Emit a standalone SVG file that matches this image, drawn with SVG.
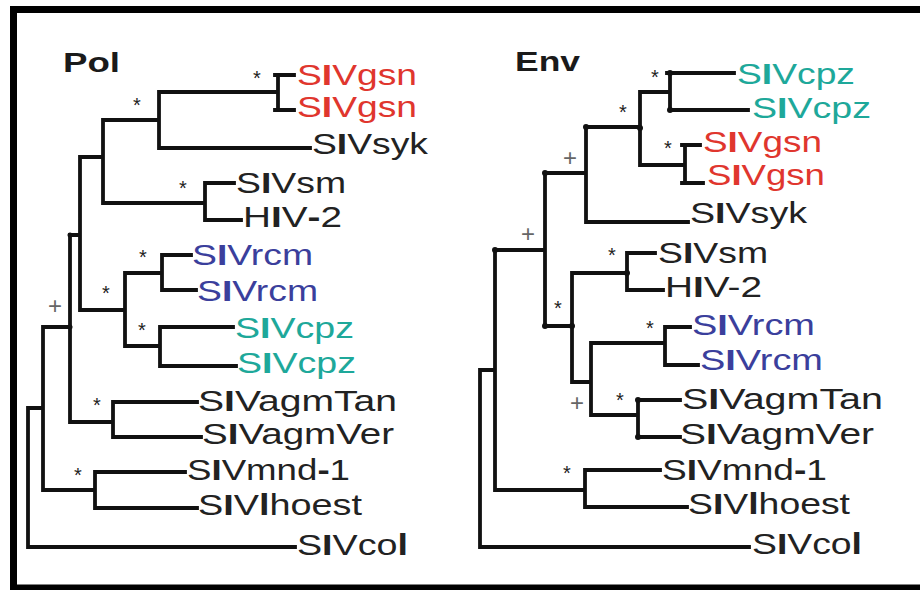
<svg xmlns="http://www.w3.org/2000/svg" width="920" height="590" viewBox="0 0 920 590">
<style>
.lbl{font-family:"Liberation Sans",Arial,sans-serif;font-size:30px;fill:#222}
.red{fill:#e0362e}
.blue{fill:#3b3f9c}
.teal{fill:#1ea89a}
.b{font-weight:bold}
.ttl{font-family:"Liberation Sans",Arial,sans-serif;font-size:27px;font-weight:bold;fill:#1a1a1a}
.st{font-family:"Liberation Sans",Arial,sans-serif;font-size:20px;fill:#222;text-anchor:middle}
.pl{font-family:"Liberation Sans",Arial,sans-serif;font-size:24px;fill:#666;text-anchor:middle}
.edge{fill:none;stroke:#111;stroke-width:3.8;stroke-linecap:square;stroke-linejoin:miter}
.dot{fill:#111}
</style>
<rect x="13.5" y="9.5" width="915" height="578.5" fill="#fff" stroke="#000" stroke-width="7"/>

<g id="titles">
<text class="ttl" x="63" y="72" textLength="57" lengthAdjust="spacingAndGlyphs">Pol</text>
<text class="ttl" x="515" y="71" textLength="65" lengthAdjust="spacingAndGlyphs">Env</text>
</g>

<g id="connectors">
<path class="edge" d="M275,75 H294 M278,75 V110 M275,110 H294 M159,92 H278 M159,92 V148 H310 M103,120 H159 M103,120 V203 H205 M205,183 V220 M205,183 H234 M205,220 H241 M80,157 H103 M80,157 V310 H125 M125,273 V346 M125,273 H162 M125,346 H160 M162,255 V290 M162,255 H191 M162,290 H196 M160,327 V366 M160,327 H233 M160,366 H236 M70,235 H80 M70,235 V422 H113 M113,402 V437 M113,402 H197 M113,437 H201 M43,327 H70 M43,327 V490 H95 M95,472 V508 M95,472 H185 M95,508 H197 M28,408 H43 M28,408 V547 H295"/>
<path class="edge" d="M667,73 H734 M670,73 V110 H748 M640,92 H670 M640,92 V165 H685 M682,145 H700 M685,145 V183 M682,183 H703 M586,127 H640 M586,127 V222 H688 M545,173 H586 M545,173 V326 H572 M572,273 V382 M572,273 H627 M627,253 V290 M627,253 H655 M627,290 H663 M572,382 H591 M591,343 V415 M591,343 H665 M665,327 V365 M665,327 H690 M665,365 H698 M591,415 H638 M638,400 V437 M638,400 H680 M638,437 H680 M495,250 H545 M495,250 V490 H585 M585,470 V507 M585,470 H660 M585,507 H687 M480,370 H495 M480,370 V547 H749"/>
<g class="dot">
<circle cx="670" cy="73" r="3"/><circle cx="670" cy="110" r="3"/><circle cx="640" cy="128" r="3"/><circle cx="586" cy="127" r="3"/><circle cx="545" cy="173" r="3"/><circle cx="495" cy="250" r="3"/><circle cx="545" cy="326" r="3"/><circle cx="572" cy="326" r="3"/><circle cx="627" cy="273" r="3"/><circle cx="638" cy="400" r="3"/><circle cx="638" cy="437" r="3"/><circle cx="70" cy="235" r="2.5"/><circle cx="70" cy="327" r="2.5"/>
</g>
</g>

<g id="support">
<text class="st" x="257" y="85">*</text>
<text class="st" x="137" y="112">*</text>
<text class="st" x="183" y="195">*</text>
<text class="st" x="143" y="264">*</text>
<text class="st" x="106" y="300">*</text>
<text class="st" x="142" y="337">*</text>
<text class="st" x="97" y="412">*</text>
<text class="st" x="78" y="482">*</text>
<text class="pl" x="55" y="314">+</text>
<text class="st" x="655" y="84">*</text>
<text class="st" x="623" y="119">*</text>
<text class="st" x="668" y="155">*</text>
<text class="st" x="612" y="262">*</text>
<text class="st" x="558" y="315">*</text>
<text class="st" x="650" y="335">*</text>
<text class="st" x="620" y="407">*</text>
<text class="st" x="567" y="480">*</text>
<text class="pl" x="570" y="166">+</text>
<text class="pl" x="528" y="242">+</text>
<text class="pl" x="577" y="411">+</text>
</g>

<g id="pol-SIVgsn-1"><text class="lbl red" x="297" y="85" textLength="120" lengthAdjust="spacingAndGlyphs">S<tspan class="b">I</tspan>Vgsn</text></g>
<g id="pol-SIVgsn-2"><text class="lbl red" x="297" y="117" textLength="120" lengthAdjust="spacingAndGlyphs">S<tspan class="b">I</tspan>Vgsn</text></g>
<g id="pol-SIVsyk"><text class="lbl" x="312" y="154" textLength="116" lengthAdjust="spacingAndGlyphs">S<tspan class="b">I</tspan>Vsyk</text></g>
<g id="pol-SIVsm"><text class="lbl" x="236" y="193" textLength="110" lengthAdjust="spacingAndGlyphs">S<tspan class="b">I</tspan>Vsm</text></g>
<g id="pol-HIV-2"><text class="lbl" x="243" y="227" textLength="99" lengthAdjust="spacingAndGlyphs">H<tspan class="b">I</tspan>V<tspan class="b">-</tspan>2</text></g>
<g id="pol-SIVrcm-1"><text class="lbl blue" x="192" y="265" textLength="121" lengthAdjust="spacingAndGlyphs">S<tspan class="b">I</tspan>Vrcm</text></g>
<g id="pol-SIVrcm-2"><text class="lbl blue" x="197" y="301" textLength="121" lengthAdjust="spacingAndGlyphs">S<tspan class="b">I</tspan>Vrcm</text></g>
<g id="pol-SIVcpz-1"><text class="lbl teal" x="235" y="338" textLength="119" lengthAdjust="spacingAndGlyphs">S<tspan class="b">I</tspan>Vcpz</text></g>
<g id="pol-SIVcpz-2"><text class="lbl teal" x="237" y="373" textLength="119" lengthAdjust="spacingAndGlyphs">S<tspan class="b">I</tspan>Vcpz</text></g>
<g id="pol-SIVagmTan"><text class="lbl" x="198" y="411" textLength="199" lengthAdjust="spacingAndGlyphs">S<tspan class="b">I</tspan>VagmTan</text></g>
<g id="pol-SIVagmVer"><text class="lbl" x="202" y="444" textLength="192" lengthAdjust="spacingAndGlyphs">S<tspan class="b">I</tspan>VagmVer</text></g>
<g id="pol-SIVmnd-1"><text class="lbl" x="187" y="480" textLength="163" lengthAdjust="spacingAndGlyphs">S<tspan class="b">I</tspan>Vmnd<tspan class="b">-</tspan>1</text></g>
<g id="pol-SIVlhoest"><text class="lbl" x="198" y="515" textLength="164" lengthAdjust="spacingAndGlyphs">S<tspan class="b">I</tspan>V<tspan class="b">l</tspan>hoest</text></g>
<g id="pol-SIVcol"><text class="lbl" x="297" y="555" textLength="111" lengthAdjust="spacingAndGlyphs">S<tspan class="b">I</tspan>Vco<tspan class="b">l</tspan></text></g>

<g id="env-SIVcpz-1"><text class="lbl teal" x="737" y="84" textLength="118" lengthAdjust="spacingAndGlyphs">S<tspan class="b">I</tspan>Vcpz</text></g>
<g id="env-SIVcpz-2"><text class="lbl teal" x="752" y="118" textLength="119" lengthAdjust="spacingAndGlyphs">S<tspan class="b">I</tspan>Vcpz</text></g>
<g id="env-SIVgsn-1"><text class="lbl red" x="703" y="152" textLength="119" lengthAdjust="spacingAndGlyphs">S<tspan class="b">I</tspan>Vgsn</text></g>
<g id="env-SIVgsn-2"><text class="lbl red" x="707" y="185" textLength="118" lengthAdjust="spacingAndGlyphs">S<tspan class="b">I</tspan>Vgsn</text></g>
<g id="env-SIVsyk"><text class="lbl" x="690" y="223" textLength="117" lengthAdjust="spacingAndGlyphs">S<tspan class="b">I</tspan>Vsyk</text></g>
<g id="env-SIVsm"><text class="lbl" x="658" y="263" textLength="110" lengthAdjust="spacingAndGlyphs">S<tspan class="b">I</tspan>Vsm</text></g>
<g id="env-HIV-2"><text class="lbl" x="665" y="297" textLength="97" lengthAdjust="spacingAndGlyphs">H<tspan class="b">I</tspan>V-2</text></g>
<g id="env-SIVrcm-1"><text class="lbl blue" x="692" y="335" textLength="123" lengthAdjust="spacingAndGlyphs">S<tspan class="b">I</tspan>Vrcm</text></g>
<g id="env-SIVrcm-2"><text class="lbl blue" x="700" y="370" textLength="123" lengthAdjust="spacingAndGlyphs">S<tspan class="b">I</tspan>Vrcm</text></g>
<g id="env-SIVagmTan"><text class="lbl" x="682" y="409" textLength="201" lengthAdjust="spacingAndGlyphs">S<tspan class="b">I</tspan>VagmTan</text></g>
<g id="env-SIVagmVer"><text class="lbl" x="680" y="444" textLength="194" lengthAdjust="spacingAndGlyphs">S<tspan class="b">I</tspan>VagmVer</text></g>
<g id="env-SIVmnd-1"><text class="lbl" x="662" y="480" textLength="165" lengthAdjust="spacingAndGlyphs">S<tspan class="b">I</tspan>Vmnd<tspan class="b">-</tspan>1</text></g>
<g id="env-SIVlhoest"><text class="lbl" x="688" y="514" textLength="162" lengthAdjust="spacingAndGlyphs">S<tspan class="b">I</tspan>V<tspan class="b">l</tspan>hoest</text></g>
<g id="env-SIVcol"><text class="lbl" x="752" y="554" textLength="110" lengthAdjust="spacingAndGlyphs">S<tspan class="b">I</tspan>Vco<tspan class="b">l</tspan></text></g>
</svg>
